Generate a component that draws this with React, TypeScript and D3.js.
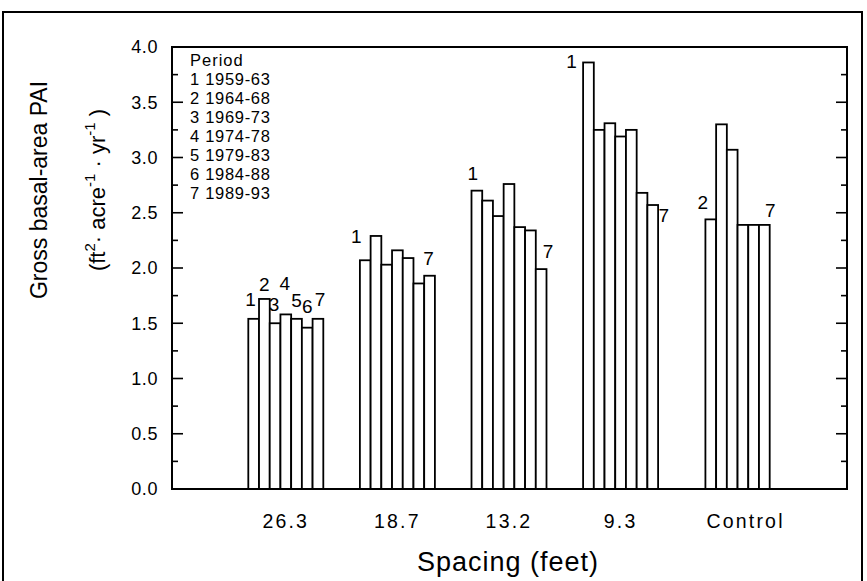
import React from 'react';
import * as d3 from 'd3';

// spacing treatments (x categories) and the 5-yr growth periods
const categories = ['26.3', '18.7', '13.2', '9.3', 'Control'];
const periods = ['1', '2', '3', '4', '5', '6', '7'];
const periodYears = ['1959-63', '1964-68', '1969-73', '1974-78', '1979-83', '1984-88', '1989-93'];

// gross basal-area PAI, ft2/acre/yr, one value per period (null = not measured)
const pai263 = [1.54, 1.72, 1.50, 1.58, 1.54, 1.46, 1.54];
const pai187 = [2.07, 2.29, 2.03, 2.16, 2.09, 1.86, 1.93];
const pai132 = [2.70, 2.61, 2.47, 2.76, 2.37, 2.34, 1.99];
const pai93 = [3.86, 3.25, 3.31, 3.19, 3.25, 2.68, 2.57];
const paiControl = [null, 2.44, 3.30, 3.07, 2.39, 2.39, 2.39];

const yTicks = [0, 0.5, 1.0, 1.5, 2.0, 2.5, 3.0, 3.5, 4.0];
const yMinor = d3.range(0, 4.01, 0.25);

// period numbers written above some bars
const barNotes = [
  { cat: '26.3', period: '1', dx: -3, lift: 19 },
  { cat: '26.3', period: '2', dx: 0, lift: 15 },
  { cat: '26.3', period: '3', dx: -1, lift: 19 },
  { cat: '26.3', period: '4', dx: -1, lift: 31 },
  { cat: '26.3', period: '5', dx: 0, lift: 18 },
  { cat: '26.3', period: '6', dx: 0, lift: 21 },
  { cat: '26.3', period: '7', dx: 2, lift: 19 },
  { cat: '18.7', period: '1', dx: -9, lift: 24 },
  { cat: '18.7', period: '7', dx: -1, lift: 17 },
  { cat: '13.2', period: '1', dx: -4, lift: 17 },
  { cat: '13.2', period: '7', dx: 7, lift: 18 },
  { cat: '9.3', period: '1', dx: -17, lift: 1 },
  { cat: '9.3', period: '7', dx: 11, lift: -10 },
  { cat: 'Control', period: '2', dx: -8, lift: 17 },
  { cat: 'Control', period: '7', dx: 6, lift: 15 },
];

const seriesByCat: Record<string, (number | null)[]> = {
  '26.3': pai263,
  '18.7': pai187,
  '13.2': pai132,
  '9.3': pai93,
  'Control': paiControl,
};

const font = "'Liberation Sans', Arial, Helvetica, sans-serif";

export default function App() {
  const width = 867;
  const height = 581;
  const plot = { left: 172, right: 847, top: 47, bottom: 489 };

  const y = d3.scaleLinear().domain([0, 4]).range([plot.bottom, plot.top]);
  const xCat = d3.scaleBand<string>().domain(categories).range([230, 788]);
  const groupW = 75;
  const xPer = d3.scaleBand<string>().domain(periods).range([0, groupW]);
  const groupX0 = (c: string) => (xCat(c) as number) + xCat.bandwidth() / 2 - groupW / 2;

  const bars = categories.flatMap(c =>
    seriesByCat[c].map((v, i) => ({ cat: c, period: periods[i], v }))
      .filter(d => d.v !== null)
  );

  const barX = (c: string, p: string) => groupX0(c) + (xPer(p) as number);
  const catCenter = (c: string) => {
    const xs = bars.filter(b => b.cat === c).map(b => barX(c, b.period) + xPer.bandwidth() / 2);
    return d3.mean(xs) as number;
  };

  const legendTop = 60;
  const legendStep = 19;

  return (
    <svg width={width} height={height} style={{ position: 'absolute', left: 0, top: 0, background: '#fff' }}
      fontFamily={font}>

      {/* outer frame */}
      <rect x={3} y={12} width={859} height={620} fill='none' stroke='#000' strokeWidth={2} />

      {/* bars */}
      <g>
        {bars.map(b => (
          <rect
            key={b.cat + b.period}
            x={barX(b.cat, b.period)}
            y={y(b.v as number)}
            width={xPer.bandwidth()}
            height={plot.bottom - y(b.v as number)}
            fill='#fff'
            stroke='#000'
            strokeWidth={1.8}
          />
        ))}
      </g>

      {/* plot box */}
      <rect x={plot.left} y={plot.top} width={plot.right - plot.left} height={plot.bottom - plot.top}
        fill='none' stroke='#000' strokeWidth={2} />

      {/* ticks left and right, inward */}
      {yMinor.map(t => {
        const major = Math.abs(t * 2 - Math.round(t * 2)) < 1e-6;
        const len = major ? 11 : 6;
        return (
          <g key={t}>
            <line x1={plot.left} x2={plot.left + len} y1={y(t)} y2={y(t)} stroke='#000' strokeWidth={1.6} />
            <line x1={plot.right} x2={plot.right - len} y1={y(t)} y2={y(t)} stroke='#000' strokeWidth={1.6} />
          </g>
        );
      })}

      {/* y tick labels */}
      {yTicks.map(t => (
        <text key={t} x={plot.left - 14} y={y(t)} dy='0.35em' textAnchor='end' fontSize={18} letterSpacing={0.6}>
          {t.toFixed(1)}
        </text>
      ))}

      {/* legend */}
      <text x={190} y={legendTop} dy='0.35em' fontSize={16.5} letterSpacing={1}>Period</text>
      {periods.map((p, i) => (
        <text key={p} x={190} y={legendTop + (i + 1) * legendStep} dy='0.35em' fontSize={16.5} letterSpacing={0.7}>
          {p + ' ' + periodYears[i]}
        </text>
      ))}

      {/* bar notes */}
      {barNotes.map(n => {
        const v = seriesByCat[n.cat][periods.indexOf(n.period)] as number;
        return (
          <text key={n.cat + n.period}
            x={barX(n.cat, n.period) + xPer.bandwidth() / 2 + n.dx}
            y={y(v) - n.lift} dy='0.35em' textAnchor='middle' fontSize={19}>
            {n.period}
          </text>
        );
      })}

      {/* category labels */}
      {categories.map(c => (
        <text key={c} x={catCenter(c) + (c === 'Control' ? 8 : 0)} y={521} dy='0.35em' textAnchor='middle'
          fontSize={19.5} letterSpacing={2.2}>
          {c}
        </text>
      ))}

      {/* axis titles */}
      <text x={508} y={562} dy='0.35em' textAnchor='middle' fontSize={27} letterSpacing={1}>Spacing (feet)</text>
      <text transform='translate(47,190) rotate(-90)' textAnchor='middle' fontSize={23}>
        Gross basal-area PAI
      </text>
      <text transform='translate(105,190) rotate(-90)' textAnchor='middle' fontSize={22}>
        (ft<tspan dy={-10} fontSize={15}>2</tspan>
        <tspan dy={10}>· acre</tspan>
        <tspan dy={-10} fontSize={15}>-1</tspan>
        <tspan dy={10}> · yr</tspan>
        <tspan dy={-10} fontSize={15}>-1</tspan>
        <tspan dy={10}> )</tspan>
      </text>
    </svg>
  );
}
